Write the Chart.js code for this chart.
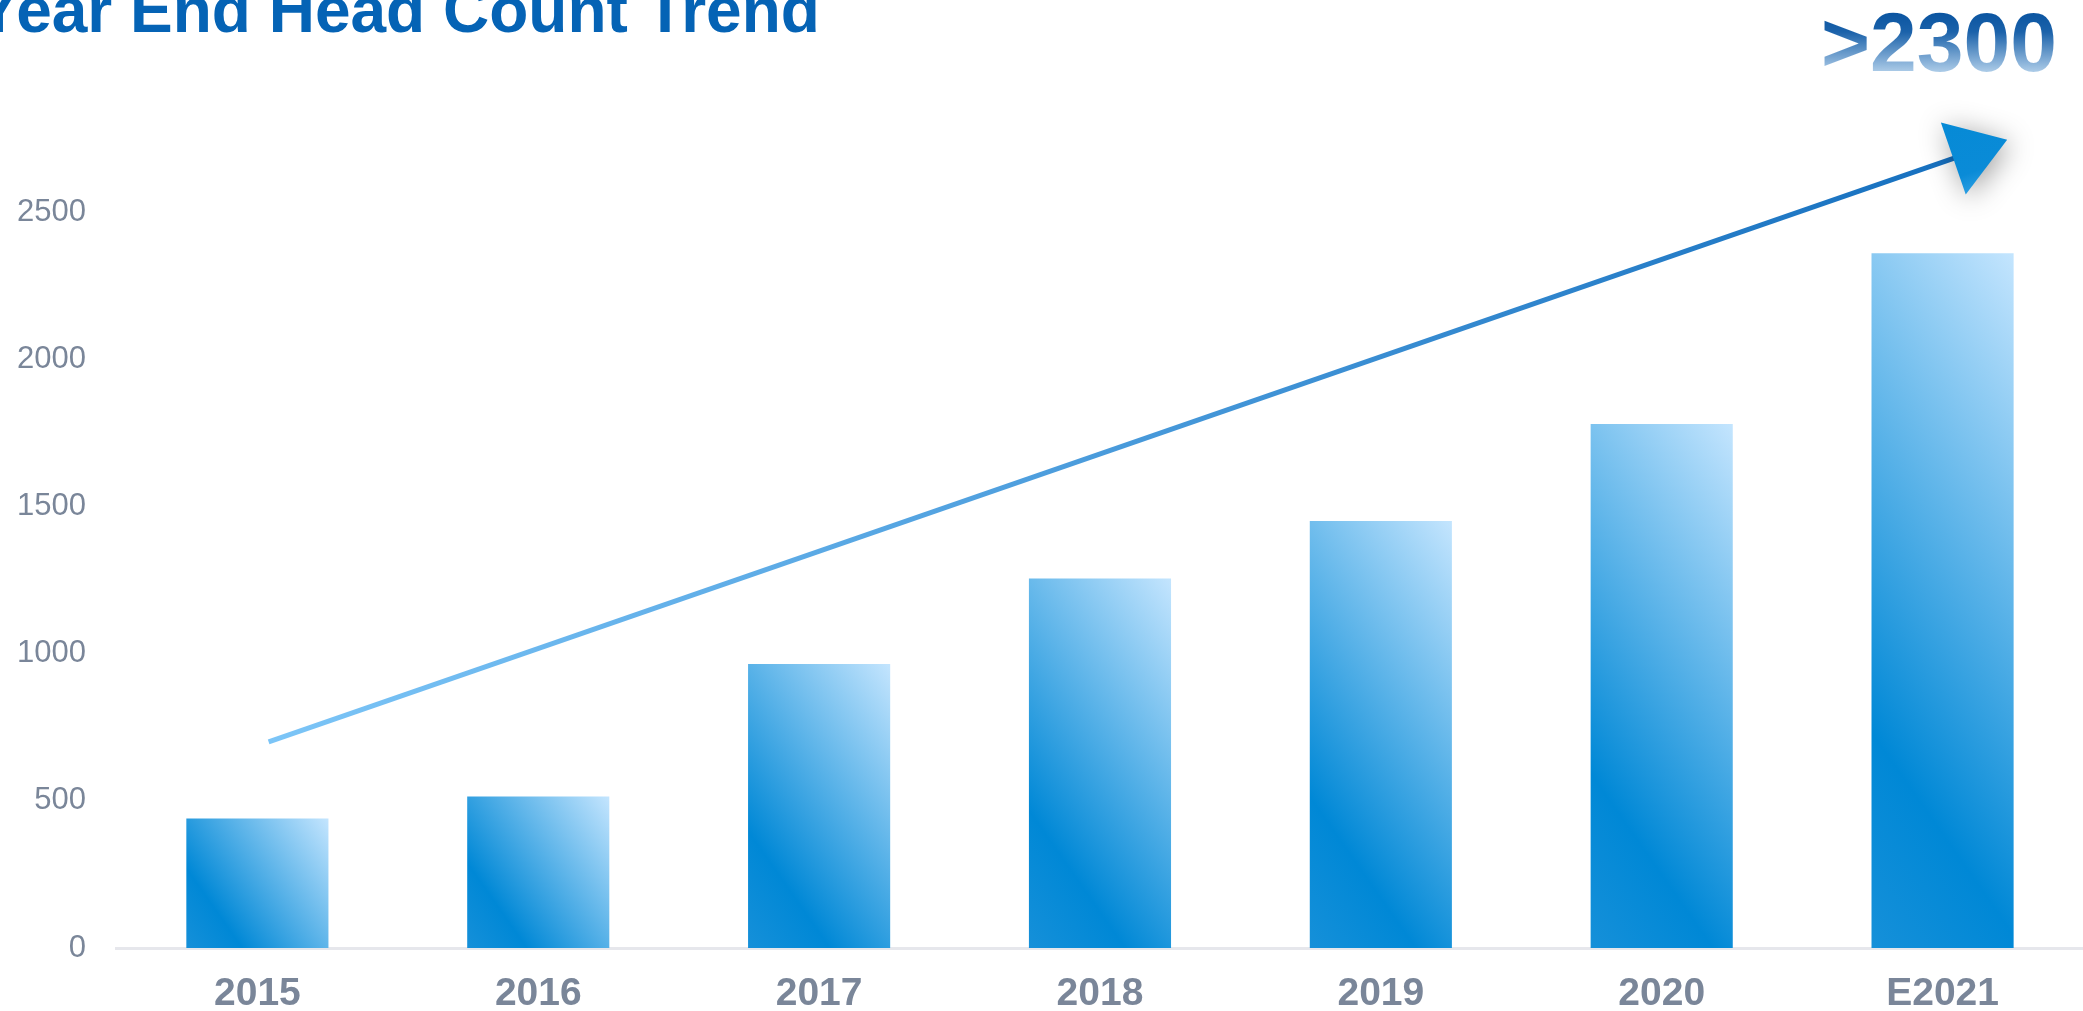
<!DOCTYPE html>
<html>
<head>
<meta charset="utf-8">
<title>Year End Head Count Trend</title>
<script src="https://cdn.jsdelivr.net/npm/chart.js@4.4.1/dist/chart.umd.min.js"></script>
<style>
  html, body { margin: 0; padding: 0; background: #fff; overflow: hidden; }
  #wrap { position: relative; width: 2083px; height: 1011px; }
  #chart { position: absolute; left: 0; top: 0; }
  .title {
    position: absolute; left: -23px; top: -22px; margin: 0;
    font: bold 64px/64px 'Liberation Sans', Arial, sans-serif;
    color: #0563b5; white-space: nowrap;
  }
  .callout {
    position: absolute; left: 1821px; top: 0px;
    font: bold 84px/84px 'Liberation Sans', Arial, sans-serif;
    white-space: nowrap;
    background: linear-gradient(180deg, #0a54a0 14%, #1b62aa 38%, #b4d1eb 88%);
    -webkit-background-clip: text; background-clip: text;
    color: transparent;
  }
</style>
</head>
<body>
<div id="wrap">
  <canvas id="chart" width="2083" height="1011"></canvas>
  <h1 class="title">Year End Head Count Trend</h1>
  <div class="callout">&gt;2300</div>
</div>
<script>
// values
const years = ['2015', '2016', '2017', '2018', '2019', '2020', 'E2021'];
const headCount = [440, 515, 965, 1255, 1450, 1780, 2360];
const yTicks = [0, 500, 1000, 1500, 2000, 2500];

// trend arrow, in data units (category index, head count)
const trendFrom = [0.04, 700];
const trendTo = [6.23, 2745];

const barPct = 0.506;
const font = "'Liberation Sans', Arial, sans-serif";
const axisGrey = '#7a8699';

/* each bar gets its own diagonal gradient: dark low-left, pale top-right */
function barFill(context) {
  const chart = context.chart;
  if (!chart.chartArea || context.dataIndex === undefined) return '#0088d6';
  const xs = chart.scales.x, ys = chart.scales.y;
  const i = context.dataIndex;
  const w = (xs.getPixelForValue(1) - xs.getPixelForValue(0)) * barPct;
  const left = xs.getPixelForValue(i) - w / 2;
  const top = ys.getPixelForValue(headCount[i]);
  const bottom = ys.getPixelForValue(0);
  const h = bottom - top;
  const a = 35 * Math.PI / 180;
  const d = w * Math.cos(a) + h * Math.sin(a);
  const g = chart.ctx.createLinearGradient(left, bottom, left + d * Math.cos(a), bottom - d * Math.sin(a));
  g.addColorStop(0, '#1690d9');
  g.addColorStop(0.24, '#0088d6');
  g.addColorStop(1, '#c4e5fe');
  return g;
}

const trendArrow = {
  id: 'trendArrow',
  afterDatasetsDraw(chart) {
    const { ctx, scales: { x, y } } = chart;
    const x0 = x.getPixelForValue(trendFrom[0]), y0 = y.getPixelForValue(trendFrom[1]);
    const x1 = x.getPixelForValue(trendTo[0]), y1 = y.getPixelForValue(trendTo[1]);
    const len = Math.hypot(x1 - x0, y1 - y0);
    const ux = (x1 - x0) / len, uy = (y1 - y0) / len;
    const headLen = 57, headHalf = 38;
    const bx = x1 - ux * headLen, by = y1 - uy * headLen;

    ctx.save();
    const lg = ctx.createLinearGradient(x0, y0, bx, by);
    lg.addColorStop(0, '#7cc5f7');
    lg.addColorStop(1, '#1670bf');
    ctx.strokeStyle = lg;
    ctx.lineWidth = 5;
    ctx.beginPath();
    ctx.moveTo(x0, y0);
    ctx.lineTo(bx + ux * 4, by + uy * 4);
    ctx.stroke();

    ctx.shadowColor = 'rgba(0,0,0,0.38)';
    ctx.shadowBlur = 28;
    ctx.shadowOffsetX = 3;
    ctx.shadowOffsetY = 4;
    const hg = ctx.createLinearGradient(bx - uy * headHalf, by + ux * headHalf, bx + uy * headHalf, by - ux * headHalf);
    hg.addColorStop(0, '#2a9ee2');
    hg.addColorStop(0.25, '#0a8bd7');
    hg.addColorStop(1, '#068ad6');
    ctx.fillStyle = hg;
    ctx.beginPath();
    ctx.moveTo(x1, y1);
    ctx.lineTo(bx - uy * headHalf, by + ux * headHalf);
    ctx.lineTo(bx + uy * headHalf, by - ux * headHalf);
    ctx.closePath();
    ctx.fill();
    ctx.restore();
  }
};

new Chart(document.getElementById('chart'), {
  type: 'bar',
  data: {
    labels: years,
    datasets: [{
      label: 'Head count',
      data: headCount,
      backgroundColor: barFill,
      borderWidth: 0,
      barPercentage: barPct,
      categoryPercentage: 1
    }]
  },
  options: {
    responsive: false,
    animation: false,
    devicePixelRatio: 1,
    // chart.js counts tick padding on both sides of the labels, so pull the outer edges back
    layout: { padding: { left: -14, top: 212, right: 0, bottom: -30 } },
    plugins: { legend: { display: false }, tooltip: { enabled: false }, title: { display: false } },
    scales: {
      x: {
        grid: { display: false, drawTicks: false },
        border: { display: true, color: '#e6e7ec', width: 3 },
        ticks: { color: axisGrey, padding: 27, font: { family: font, size: 39, weight: 'bold', lineHeight: 1 } }
      },
      y: {
        min: 0,
        max: yTicks[yTicks.length - 1],
        afterBuildTicks: axis => { axis.ticks = yTicks.map(v => ({ value: v })); },
        grid: { display: false, drawTicks: false },
        border: { display: false },
        ticks: {
          color: axisGrey, padding: 31,
          font: { family: font, size: 31, lineHeight: 1.2 },
          callback: v => String(v)
        }
      }
    }
  },
  plugins: [trendArrow]
});
</script>
</body>
</html>
